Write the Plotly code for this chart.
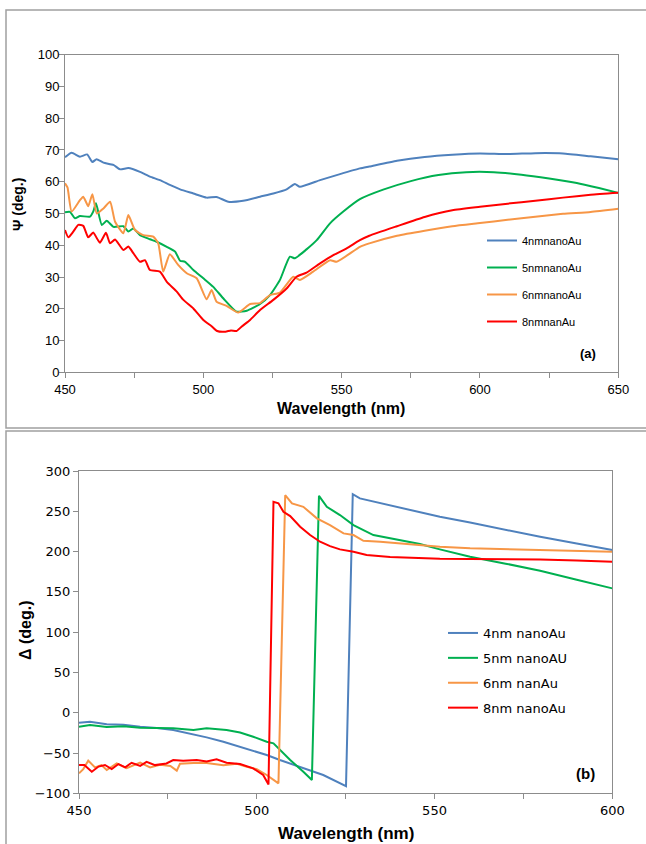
import plotly.graph_objects as go

# ---------------- Panel (a): Psi ----------------
psi_4nm_x = [450, 452.4, 455.4, 458, 459.9, 461.4, 463.9, 467.5, 469.9, 472.9, 477.1, 480.7, 484.3, 487.9,
             491.6, 496.4, 501.2, 504.8, 509, 514.4, 520.5, 525.3, 530.1, 533.1, 534.9, 542.2, 549.4, 556.6,
             560, 570, 580, 590, 600, 610, 620, 630, 640, 650]
psi_4nm_y = [67.7, 69.1, 67.9, 68.6, 66.2, 67.1, 66.0, 65.3, 63.9, 64.3, 63.1, 61.6, 60.5, 59.0,
             57.6, 56.3, 55.0, 55.2, 53.7, 54.0, 55.3, 56.3, 57.6, 59.3, 58.4, 60.5, 62.4, 64.2,
             64.8, 66.6, 67.8, 68.5, 68.9, 68.7, 69.0, 68.9, 68.0, 67.1]

psi_5nm_x = [450, 451.8, 453.6, 455.4, 459, 460.2, 461.2, 463.3, 465.1, 467.5, 471.1, 472.9, 474.7, 477.1,
             480.7, 483.1, 486.8, 489.8, 491.6, 493.4, 496.4, 500, 503.6, 507.2, 512, 515.7, 520.5, 524.1,
             527.7, 531.3, 533.1, 537.3, 541, 545.8, 550.6, 556.6, 565, 575, 585, 595, 605, 615, 625, 635,
             643, 650]
psi_5nm_y = [50.4, 50.5, 48.5, 49.2, 49.0, 50.6, 53.2, 46.4, 47.7, 45.8, 46.0, 44.3, 45.3, 43.2,
             41.9, 41.1, 39.5, 38.0, 35.1, 34.8, 32.2, 29.6, 26.9, 23.3, 19.1, 19.4, 21.5, 24.3,
             29.1, 36.4, 35.9, 38.7, 41.6, 46.9, 50.6, 54.5, 57.5, 60.2, 62.1, 63.0, 63.0, 62.2, 61.0, 59.6,
             58.0, 56.5]

psi_6nm_x = [450, 450.9, 452.4, 455.4, 456.6, 458.4, 459.9, 461.5, 463.9, 466.3, 468.1, 471.1, 472.9, 475.3,
             478.3, 481.9, 483.7, 485.5, 487.9, 490.9, 494, 497.6, 501.2, 503, 504.8, 508.4, 512.6, 516.9,
             520.5, 524.1, 527.7, 532.5, 534.9, 539.7, 545.8, 548.2, 556.6, 560, 570, 580, 590, 600, 610,
             620, 630, 640, 650]
psi_6nm_y = [59.5, 58.2, 50.6, 54.2, 55.3, 52.3, 56.1, 50.0, 51.6, 53.7, 47.4, 43.8, 49.5, 44.8,
             43.2, 42.7, 40.6, 31.7, 37.2, 33.8, 31.2, 29.6, 23.0, 25.9, 22.2, 20.9, 18.8, 21.5,
             21.8, 24.3, 25.1, 30.1, 29.1, 31.7, 35.3, 34.8, 39.5, 40.6, 43.0, 44.6, 46.0, 47.0, 48.0,
             49.0, 49.9, 50.5, 51.5]

psi_8nm_x = [450, 451.2, 453, 454.8, 456.6, 458.4, 460.2, 462.6, 464.8, 466.3, 468.1, 471.1, 472.9, 474.7,
             477.1, 478.9, 480.7, 484.3, 486.8, 490.4, 492.8, 496.4, 500, 503, 505, 508, 510, 512, 514,
             516.9, 520.5, 525.3, 530.1, 533.7, 537.3, 542.2, 547, 551.8, 556.6, 560, 570, 580, 590, 600,
             610, 620, 630, 640, 650]
psi_8nm_y = [44.8, 42.5, 44.3, 46.4, 46.1, 42.5, 44.0, 40.8, 43.9, 40.6, 41.8, 38.5, 39.6, 37.5,
             34.8, 35.3, 32.2, 31.7, 28.5, 25.4, 22.8, 20.1, 16.5, 14.5, 13.0, 12.8, 13.2, 13.0, 14.5,
             16.5, 19.6, 22.8, 26.4, 30.1, 31.4, 34.3, 36.9, 39.0, 41.6, 43.0, 46.0, 48.9, 51.0, 52.1,
             53.1, 54.0, 55.0, 55.9, 56.5]

# ---------------- Panel (b): Delta ----------------
del_4nm_x = [450, 453.1, 457.8, 462.5, 467.2, 471.9, 476.5, 481.2, 485.9, 490.6, 495.3, 500, 502.8, 506.5,
             512.2, 518.7, 525.1, 527, 529, 534.7, 542.2, 551.5, 560, 570, 579.7, 590, 600]
del_4nm_y = [-12.4, -11.2, -14.4, -14.9, -17.4, -19.0, -21.5, -25.6, -30.6, -36.0, -42.2, -48.4, -52.5, -58.7,
             -67.8, -77.3, -91.0, 271.3, 266.0, 260.0, 252.3, 243.2, 236.0, 227.0, 218.4, 210.0, 202.0]

del_5nm_x = [450, 453.1, 457.8, 462.5, 467.2, 476.5, 482.2, 485.9, 491.5, 495.3, 499, 502.8, 504.7, 509.4,
             513.1, 515.5, 517.5, 519.7, 523.4, 527.2, 532.8, 540.3, 545.9, 551.5, 560, 570, 579.7, 590,
             600]
del_5nm_y = [-17.4, -15.3, -17.8, -16.9, -18.5, -19.4, -21.5, -19.4, -21.5, -24.5, -29.8, -36.0, -38.0, -58.7,
             -73.2, -83.5, 269.2, 255.6, 245.3, 232.9, 220.5, 214.3, 209.3, 202.7, 193.5, 185.0, 176.2, 165.0,
             154.3]

del_6nm_x = [450, 451.2, 452.6, 454.5, 456.3, 457.8, 460.6, 463.4, 467.2, 470, 472.8, 475.7, 477.5, 478.4,
             482.2, 485.9, 490.6, 494.4, 497.2, 500, 502.8, 506.1, 508, 509.9, 513.1, 516.9, 520.6, 524.4,
             527.2, 530, 534.7, 540.3, 545.9, 551.5, 560, 570, 579.7, 590, 600]
del_6nm_y = [-75.2, -70.0, -59.5, -67.8, -65.0, -71.1, -62.8, -68.7, -62.0, -67.8, -64.7, -66.0, -71.9, -63.3,
             -62.5, -62.5, -65.2, -63.3, -67.0, -70.0, -77.3, -87.6, 270.0, 259.8, 255.6, 241.2, 232.9, 222.6,
             220.5, 213.4, 212.2, 210.2, 208.0, 206.0, 204.0, 203.0, 201.9, 201.0, 199.8]

del_8nm_x = [450, 451.5, 453.6, 455.5, 457.3, 459.2, 461.1, 463, 464.8, 467.2, 469, 471.4, 474.6, 476.5,
             479.3, 483.1, 485.9, 488.7, 491.5, 495.3, 499, 501.8, 503.3, 504.7, 506.1, 507.5, 509.4, 512.2,
             515, 517.8, 520.6, 523.4, 527.2, 530.9, 537.5, 544, 551.5, 560, 570, 579.7, 590, 600]
del_8nm_y = [-64.9, -65.0, -73.2, -66.8, -64.9, -70.0, -63.7, -67.8, -62.1, -66.0, -61.0, -65.0, -63.0, -58.7,
             -59.5, -58.7, -60.6, -57.9, -62.0, -63.7, -69.0, -77.3, -89.0, 261.8, 260.0, 249.4, 244.0, 230.8,
             220.5, 212.2, 206.8, 202.7, 199.8, 195.7, 193.3, 192.0, 191.2, 190.8, 190.5, 190.3, 189.0, 187.4]

names_a = ["4nmnanoAu", "5nmnanoAu", "6nmnanoAu", "8nmnanAu"]
names_b = ["4nm nanoAu", "5nm nanoAU", "6nm nanAu", "8nm nanoAu"]
colors = ["#4F81BD", "#00B050", "#F79646", "#FF0000"]

W, H = 646, 844
def px(x):
    return x / W
def py(y):
    return 1 - y / H

fig = go.Figure()

series_a = [(psi_4nm_x, psi_4nm_y), (psi_5nm_x, psi_5nm_y), (psi_6nm_x, psi_6nm_y), (psi_8nm_x, psi_8nm_y)]
for i, (xs, ys) in enumerate(series_a):
    fig.add_trace(go.Scatter(x=xs, y=ys, mode="lines", name=names_a[i],
                             line=dict(color=colors[i], width=2, shape="spline", smoothing=0.5),
                             xaxis="x", yaxis="y", legend="legend", legendgroup="a%d" % i))

series_b = [(del_4nm_x, del_4nm_y), (del_5nm_x, del_5nm_y), (del_6nm_x, del_6nm_y), (del_8nm_x, del_8nm_y)]
for i, (xs, ys) in enumerate(series_b):
    fig.add_trace(go.Scatter(x=xs, y=ys, mode="lines", name=names_b[i],
                             line=dict(color=colors[i], width=2),
                             xaxis="x2", yaxis="y2", legend="legend2", legendgroup="b%d" % i))

axcol = "#8c8c8c"
fa = dict(family="Liberation Sans, Arial, sans-serif", size=13, color="#000")
fb = dict(family="DejaVu Sans, sans-serif", size=13, color="#000")

common = dict(showline=True, linecolor=axcol, linewidth=1, mirror=True, showgrid=False, zeroline=False,
              ticks="outside", ticklen=5, tickcolor=axcol, tickwidth=1, automargin=False)

fig.update_layout(
    width=W, height=H, margin=dict(l=0, r=0, t=0, b=0, autoexpand=False),
    paper_bgcolor="white", plot_bgcolor="white",
    xaxis=dict(domain=[px(65), px(618.3)], range=[450, 650], dtick=50, anchor="y", tickfont=fa,
               minor=dict(dtick=25, ticks="outside", ticklen=5, tickcolor=axcol), **common),
    yaxis=dict(domain=[py(372.3), py(54.7)], range=[0, 100], dtick=10, anchor="x", tickfont=fa,
               ticklabelstandoff=-3, **common),
    xaxis2=dict(domain=[px(79), px(612.3)], range=[450, 600], dtick=50, anchor="y2", tickfont=fb,
                minor=dict(dtick=25, ticks="outside", ticklen=5, tickcolor=axcol), **common),
    yaxis2=dict(domain=[py(793.3), py(471)], range=[-100, 300], dtick=50, anchor="x2", tickfont=fb, **common),
    legend=dict(x=px(482), y=py(226), xanchor="left", yanchor="top", bgcolor="rgba(0,0,0,0)",
                font=dict(family="Liberation Sans, Arial, sans-serif", size=11, color="#000"),
                tracegroupgap=8, itemwidth=30),
    legend2=dict(x=px(443), y=py(618), xanchor="left", yanchor="top", bgcolor="rgba(0,0,0,0)",
                 font=dict(family="DejaVu Sans, sans-serif", size=13, color="#000"),
                 tracegroupgap=5, itemwidth=30),
    showlegend=True,
)

# panel frames
fig.add_shape(type="rect", xref="paper", yref="paper", x0=px(6), x1=px(700), y0=py(428), y1=py(10),
              line=dict(color="#a0a0a0", width=1.5), fillcolor="rgba(0,0,0,0)", layer="below")
fig.add_shape(type="rect", xref="paper", yref="paper", x0=px(6), x1=px(700), y0=py(900), y1=py(431),
              line=dict(color="#a0a0a0", width=1.5), fillcolor="rgba(0,0,0,0)", layer="below")

ann_font = "Liberation Sans, Arial, sans-serif"
def label(text, x, y, size, angle=0):
    fig.add_annotation(text=text, xref="paper", yref="paper", x=px(x), y=py(y), xanchor="center",
                       yanchor="middle", textangle=angle, showarrow=False,
                       font=dict(family=ann_font, size=size, color="#000"))

# axis titles and panel labels
label("<b>Wavelength (nm)</b>", 341, 409, 16)
label("<b>Ψ (deg.)</b>", 18, 205, 14, -90)
label("<b>(a)</b>", 588, 353, 13)
label("<b>Wavelength (nm)</b>", 346, 833, 17)
label("<b>Δ (deg.)</b>", 25, 630, 16, -90)
label("<b>(b)</b>", 585, 773, 15)

fig.write_html("out.html", config={"displayModeBar": False},
               post_script="document.body.style.margin='0px';document.body.style.overflow='hidden';")
